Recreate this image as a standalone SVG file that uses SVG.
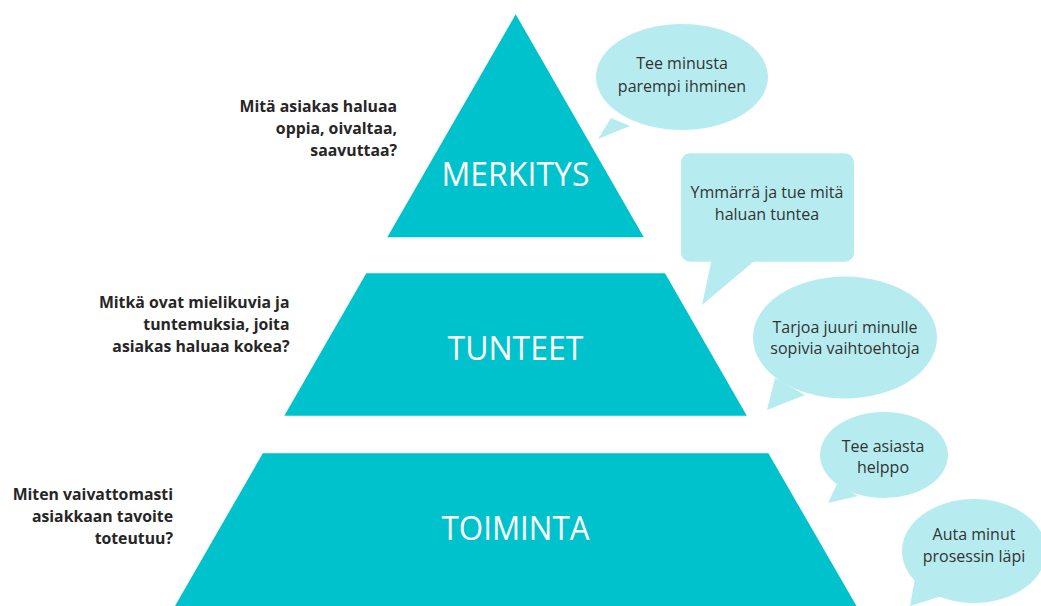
<svg xmlns="http://www.w3.org/2000/svg" width="1041" height="606" viewBox="0 0 1041 606">
<style>
.lvl{fill:#00C2CC}
.lbl{font-family:"Open Sans","Noto Sans",sans-serif;font-size:32px;fill:#ffffff;text-anchor:middle}
.q{font-family:"Open Sans","Noto Sans",sans-serif;font-size:15.8px;font-weight:700;fill:#262626;text-anchor:end}
.bub{fill:#B6ECF0}
.bt{font-family:"Open Sans","Noto Sans",sans-serif;font-size:16px;fill:#333333;text-anchor:middle}
</style>
<rect width="1041" height="606" fill="#ffffff"/>
<g id="merkitys">
<polygon class="lvl" points="515.7,14.3 643.8,237.3 387.3,237.3"/>
<text class="lbl" x="515.5" y="186">MERKITYS</text>
</g>
<g id="tunteet">
<polygon class="lvl" points="366.3,273.3 665,273.3 746.8,415.7 284.3,415.7"/>
<text class="lbl" x="515.5" y="360">TUNTEET</text>
</g>
<g id="toiminta">
<polygon class="lvl" points="262.8,453.3 768.4,453.3 856.5,606 175,606"/>
<text class="lbl" x="515.5" y="540" font-size="36" textLength="148" lengthAdjust="spacingAndGlyphs">TOIMINTA</text>
</g>
<g id="q1">
<text class="q" x="397" y="111.5">Mitä asiakas haluaa</text>
<text class="q" x="397" y="133.5">oppia, oivaltaa,</text>
<text class="q" x="397" y="155.5">saavuttaa?</text>
</g>
<g id="q2">
<text class="q" x="289.5" y="308">Mitkä ovat mielikuvia ja</text>
<text class="q" x="289.5" y="330">tuntemuksia, joita</text>
<text class="q" x="289.5" y="352">asiakas haluaa kokea?</text>
</g>
<g id="q3">
<text class="q" x="173" y="500">Miten vaivattomasti</text>
<text class="q" x="173" y="522">asiakkaan tavoite</text>
<text class="q" x="173" y="543.5">toteutuu?</text>
</g>
<g id="b1">
<ellipse class="bub" cx="682" cy="77" rx="86" ry="53"/>
<polygon class="bub" points="611,118 630,126 598,139"/>
<text class="bt" x="682" y="69">Tee minusta</text>
<text class="bt" x="682" y="92">parempi ihminen</text>
</g>
<g id="b2">
<rect class="bub" x="681" y="153.3" width="173" height="108.4" rx="9"/>
<polygon class="bub" points="712,258 758,258 702,305"/>
<text class="bt" x="767" y="198.3" font-size="14.5">Ymmärrä ja tue mitä</text>
<text class="bt" x="767" y="220" font-size="14.5">haluan tuntea</text>
</g>
<g id="b3">
<ellipse class="bub" cx="845" cy="337.5" rx="92" ry="61"/>
<polygon class="bub" points="775,378 805,395 767,410"/>
<text class="bt" x="845" y="333">Tarjoa juuri minulle</text>
<text class="bt" x="845" y="354">sopivia vaihtoehtoja</text>
</g>
<g id="b4">
<ellipse class="bub" cx="884" cy="455" rx="64" ry="43"/>
<polygon class="bub" points="837,484 858,496 828,503"/>
<text class="bt" x="883" y="451.5">Tee asiasta</text>
<text class="bt" x="883" y="473">helppo</text>
</g>
<g id="b5">
<ellipse class="bub" cx="974" cy="551" rx="72" ry="52"/>
<polygon class="bub" points="915,578 942,596 910,606"/>
<text class="bt" x="974" y="540">Auta minut</text>
<text class="bt" x="974" y="561.5">prosessin läpi</text>
</g>
<g id="connectors"></g>
</svg>
